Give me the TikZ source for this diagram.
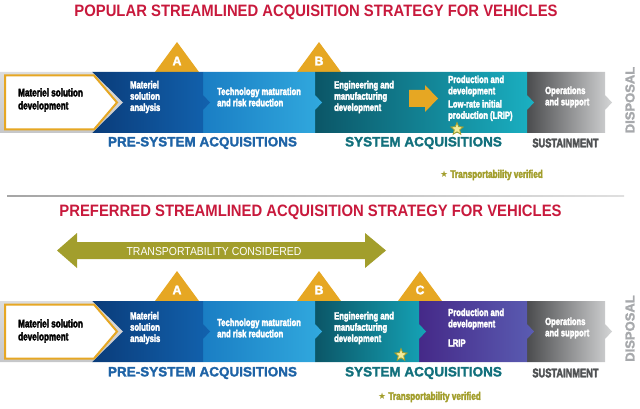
\documentclass[tikz,border=0pt]{standalone}
\usepackage{fontspec}
\setmainfont{Liberation Sans}[BoldFeatures={FakeBold=2}]
\newfontfamily\narrowfont{Liberation Sans}[FakeStretch=0.74,BoldFeatures={FakeBold=3}]
\newfontfamily\titlefont{Liberation Sans}[FakeStretch=0.9]
\newfontfamily\symbolfont{DejaVu Sans}
\usetikzlibrary{shapes.geometric}
\definecolor{titlered}{HTML}{C8193C}
\definecolor{gold}{HTML}{E6A723}
\definecolor{olive}{HTML}{A29E2C}
\definecolor{bandgray}{HTML}{C6C7C9}
\definecolor{preblue}{HTML}{1E63A6}
\definecolor{systeal}{HTML}{12707C}
\definecolor{sustgray}{HTML}{505254}
\definecolor{dispgray}{HTML}{A7A9AC}
\definecolor{starfill}{HTML}{F3EC9B}
\definecolor{bluedark}{HTML}{0A3C7A}
\definecolor{bluelight}{HTML}{1262AE}
\definecolor{techdark}{HTML}{1A7EC4}
\definecolor{techlight}{HTML}{31A9DE}
\definecolor{engdark}{HTML}{0B5667}
\definecolor{englight}{HTML}{15A3B6}
\definecolor{prodlight}{HTML}{1AB0C2}
\definecolor{purpdark}{HTML}{452988}
\definecolor{purplight}{HTML}{5A5CB2}
\definecolor{sustdark}{HTML}{4B4C4E}
\definecolor{sustlight}{HTML}{D4D5D6}
\tikzset{
  heading/.style={font=\titlefont\bfseries\fontsize{16.5}{19}\selectfont,text=titlered,inner sep=0pt},
  boxtext/.style={font=\narrowfont\bfseries\fontsize{11}{13}\selectfont,align=left,anchor=west,inner sep=0pt},
  segtext/.style={font=\narrowfont\bfseries\fontsize{10.3}{11.3}\selectfont,text=white,align=left,anchor=west,inner sep=0pt},
  phase/.style={font=\bfseries\fontsize{13.5}{16}\selectfont,inner sep=0pt},
  sustain/.style={font=\narrowfont\bfseries\fontsize{12.5}{15}\selectfont,text=sustgray,inner sep=0pt},
  disposal/.style={font=\bfseries\fontsize{13}{15}\selectfont,text=dispgray,rotate=90,inner sep=0pt},
  gatelabel/.style={font=\bfseries\fontsize{12.5}{14}\selectfont,text=white,inner sep=0pt},
  verified/.style={font=\narrowfont\bfseries\fontsize{11}{12}\selectfont,text=olive,anchor=west,inner sep=0pt},
  checkstar/.style={star,star points=5,star point ratio=2.3,fill=starfill,draw=olive,line width=0.8pt,minimum size=13pt,inner sep=0pt}
}
% one coloured stage of the band: x from, x to, band top, colours
\newcommand{\chevseg}[5]{%
  \shade[left color=#4,right color=#5] (#1,#3) -- (#2,#3) -- (#2,#3+23) -- (#2+7,#3+30.5)
    -- (#2,#3+38) -- (#2,#3+61) -- (#1,#3+61) -- cycle;}
% grey start of the band with the white first box
\newcommand{\startblock}[1]{%
  \shade[top color=bandgray!60,bottom color=bandgray] (0,#1) -- (92,#1) -- (123,#1+30.5)
    -- (92,#1+61) -- (0,#1+61) -- cycle;
  \draw[gold,line width=2pt,fill=white] (5,#1+3.5) -- (94,#1+3.5) -- (117,#1+30.5)
    -- (94,#1+57.5) -- (5,#1+57.5) -- cycle;}
% milestone triangle: apex x, band top, letter
\newcommand{\gate}[3]{%
  \fill[gold] (#1-22,#2) -- (#1,#2-30) -- (#1+22,#2) -- cycle;
  \node[gatelabel] (gate#3#2) at (#1,#2-11) {#3};}

\begin{document}
\begin{tikzpicture}[x=1pt,y=-1pt]
  \useasboundingbox (0,0) rectangle (640,409);

  % popular strategy
  \node[heading] (title1) at (316,12.5) {POPULAR STREAMLINED ACQUISITION STRATEGY FOR VEHICLES};
  \gate{177}{72}{A}
  \gate{319}{72}{B}
  \foreach \xa/\xb/\ca/\cb in {527/605/sustdark/sustlight,315/527/engdark/prodlight,
      203/315/techdark/techlight,92/203/bluedark/bluelight}
    \chevseg{\xa}{\xb}{72}{\ca}{\cb};
  \startblock{72}
  \fill[gold] (409,90) -- (425,90) -- (425,85) -- (438,98.5) -- (425,112) -- (425,107) -- (409,107) -- cycle;
  \node[boxtext] (msd1) at (18,100) {Materiel solution\\development};
  \node[segtext] (msa1) at (130,97) {Materiel\\solution\\analysis};
  \node[segtext] (tmrr1) at (217,97) {Technology maturation\\and risk reduction};
  \node[segtext] (emd1) at (334,97) {Engineering and\\manufacturing\\development};
  \node[segtext] (pd1) at (448,86) {Production and\\development};
  \node[segtext] (lrip1) at (448,110.5) {Low-rate initial\\production (LRIP)};
  \node[segtext] (ops1) at (545,97) {Operations\\and support};
  \node[checkstar] (star1) at (457,129) {};
  \node[disposal] (disp1) at (630,100) {DISPOSAL};
  \node[phase,text=preblue] (pre1) at (202.5,143) {PRE-SYSTEM ACQUISITIONS};
  \node[phase,text=systeal] (sys1) at (423.5,143) {SYSTEM ACQUISITIONS};
  \node[sustain] (sus1) at (565.5,143) {SUSTAINMENT};
  \node[verified] (ver1) at (440,175) {{\symbolfont\fontsize{9}{10}\selectfont ★} Transportability verified};

  \shade[left color=gray!70,right color=gray!25] (7,195) rectangle (624,196.6);

  % preferred strategy
  \node[heading] (title2) at (310.5,212.5) {PREFERRED STREAMLINED ACQUISITION STRATEGY FOR VEHICLES};
  \fill[olive] (57,250.5) -- (77,233) -- (77,242) -- (365,242) -- (365,233) -- (386,250.5)
    -- (365,268) -- (365,259) -- (77,259) -- (77,268) -- cycle;
  \node[font=\titlefont\fontsize{11.6}{14}\selectfont,text=white,inner sep=0pt] (consider) at (214,251.5) {TRANSPORTABILITY CONSIDERED};
  \gate{177}{301}{A}
  \gate{319}{301}{B}
  \gate{420}{301}{C}
  \foreach \xa/\xb/\ca/\cb in {527/605/sustdark/sustlight,419/527/purpdark/purplight,
      315/419/engdark/englight,203/315/techdark/techlight,92/203/bluedark/bluelight}
    \chevseg{\xa}{\xb}{301}{\ca}{\cb};
  \startblock{301}
  \node[boxtext] (msd2) at (18,331) {Materiel solution\\development};
  \node[segtext] (msa2) at (130,328) {Materiel\\solution\\analysis};
  \node[segtext] (tmrr2) at (217,328) {Technology maturation\\and risk reduction};
  \node[segtext] (emd2) at (334,328) {Engineering and\\manufacturing\\development};
  \node[segtext] (pd2) at (448,319) {Production and\\development};
  \node[segtext] (lrip2) at (448,343) {LRIP};
  \node[segtext] (ops2) at (545,328) {Operations\\and support};
  \node[checkstar] (star2) at (401,355) {};
  \node[disposal] (disp2) at (630,328.5) {DISPOSAL};
  \node[phase,text=preblue] (pre2) at (202.5,373) {PRE-SYSTEM ACQUISITIONS};
  \node[phase,text=systeal] (sys2) at (423.5,373) {SYSTEM ACQUISITIONS};
  \node[sustain] (sus2) at (565.5,373) {SUSTAINMENT};
  \node[verified] (ver2) at (378,397) {{\symbolfont\fontsize{9}{10}\selectfont ★} Transportability verified};
\end{tikzpicture}
\end{document}
